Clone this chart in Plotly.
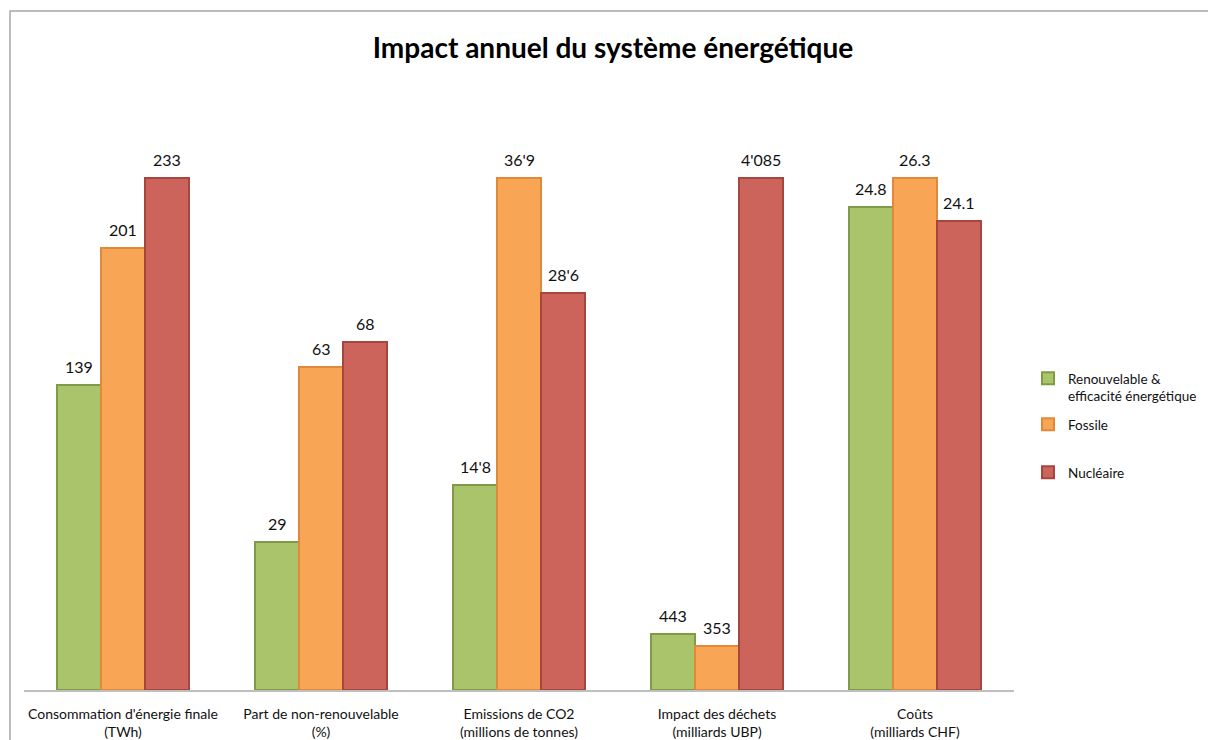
import plotly.graph_objects as go

# Categories (two-line axis labels)
categories = [
    "Consommation d'énergie finale<br>(TWh)",
    "Part de non-renouvelable<br>(%)",
    "Emissions de CO2<br>(millions de tonnes)",
    "Impact des déchets<br>(milliards UBP)",
    "Coûts<br>(milliards CHF)",
]

# Raw values per scenario
renouvelable = [139, 29, 14.8, 443, 24.8]
fossile = [201, 63, 36.9, 353, 26.3]
nucleaire = [233, 68, 28.6, 4085, 24.1]

# Labels as printed above the bars
renouvelable_lbl = ["139", "29", "14'8", "443", "24.8"]
fossile_lbl = ["201", "63", "36'9", "353", "26.3"]
nucleaire_lbl = ["233", "68", "28'6", "4'085", "24.1"]

# Reference value per category used to scale bar heights
# (largest scenario value, or 100 for the percentage share)
reference = [233, 100, 36.9, 4085, 26.3]

series_names = ["Renouvelable &<br>efficacité énergétique", "Fossile", "Nucléaire"]
fills = ["#AAC46B", "#F8A656", "#CD645B"]
outlines = ["#7F9B47", "#E0893A", "#A5473F"]
legend_tops = [363, 409, 457]  # top pixel row of each legend entry

W, H = 1208, 740
ML, MR, MT, MB = 24, 194, 80, 50
unit_px = 512  # pixel height of a full-scale bar
y_top = (H - MB - MT) / unit_px

font = "Lato, 'Open Sans', sans-serif"
bar_w = 0.2222

plot_w = W - ML - MR
plot_h = H - MT - MB
def px_x(p):
    return (p - ML) / plot_w
def px_y(p):
    return (H - MB - p) / plot_h

fig = go.Figure()
annotations = []
all_vals = [renouvelable, fossile, nucleaire]
all_lbls = [renouvelable_lbl, fossile_lbl, nucleaire_lbl]
legend_keys = ["legend", "legend2", "legend3"]
for s, (vals, lbls) in enumerate(zip(all_vals, all_lbls)):
    heights = [v / r for v, r in zip(vals, reference)]
    xs = [i + (s - 1) * bar_w for i in range(len(categories))]
    fig.add_trace(go.Bar(
        x=xs, y=heights, width=bar_w, name=series_names[s],
        marker=dict(color=fills[s], line=dict(color=outlines[s], width=2)),
        legend=legend_keys[s],
    ))
    for x, h, t in zip(xs, heights, lbls):
        annotations.append(dict(
            x=x, y=h, xref="x", yref="y", text=t, showarrow=False,
            xanchor="center", yanchor="bottom", yshift=7,
            font=dict(family=font, size=16, color="#111111"),
        ))

legend_common = dict(xanchor="left", yanchor="top", valign="top",
                     font=dict(size=13.5, family=font, color="#111111"),
                     itemwidth=30, bgcolor="rgba(0,0,0,0)")
legend_left = 1028

fig.update_layout(
    width=W, height=H,
    margin=dict(l=ML, r=MR, t=MT, b=MB, autoexpand=False),
    paper_bgcolor="white", plot_bgcolor="white",
    font=dict(family=font, color="#111111"),
    title=dict(text="<b>Impact annuel du système énergétique</b>",
               x=613 / W, xanchor="center", xref="container",
               y=1 - 48 / H, yanchor="middle", yref="container",
               font=dict(size=28, family=font, color="#000000")),
    showlegend=True,
    legend=dict(x=px_x(legend_left), y=px_y(legend_tops[0]), **legend_common),
    legend2=dict(x=px_x(legend_left), y=px_y(legend_tops[1]), **legend_common),
    legend3=dict(x=px_x(legend_left), y=px_y(legend_tops[2]), **legend_common),
    xaxis=dict(range=[-0.5, len(categories) - 0.5],
               tickvals=list(range(len(categories))), ticktext=categories,
               tickfont=dict(size=14, family=font, color="#111111"),
               ticklabelstandoff=10,
               showline=True, linecolor="#BFBFBF", linewidth=1.5,
               showgrid=False, zeroline=False, ticks="", fixedrange=True),
    yaxis=dict(range=[0, y_top], visible=False, showgrid=False, zeroline=False),
    bargap=0,
    annotations=annotations,
    shapes=[dict(type="rect", xref="paper", yref="paper",
                 x0=px_x(10), x1=px_x(1230), y0=px_y(760), y1=px_y(11),
                 line=dict(color="#A6A6A6", width=1.5), layer="below")],
)

fig.write_html("out.html")
